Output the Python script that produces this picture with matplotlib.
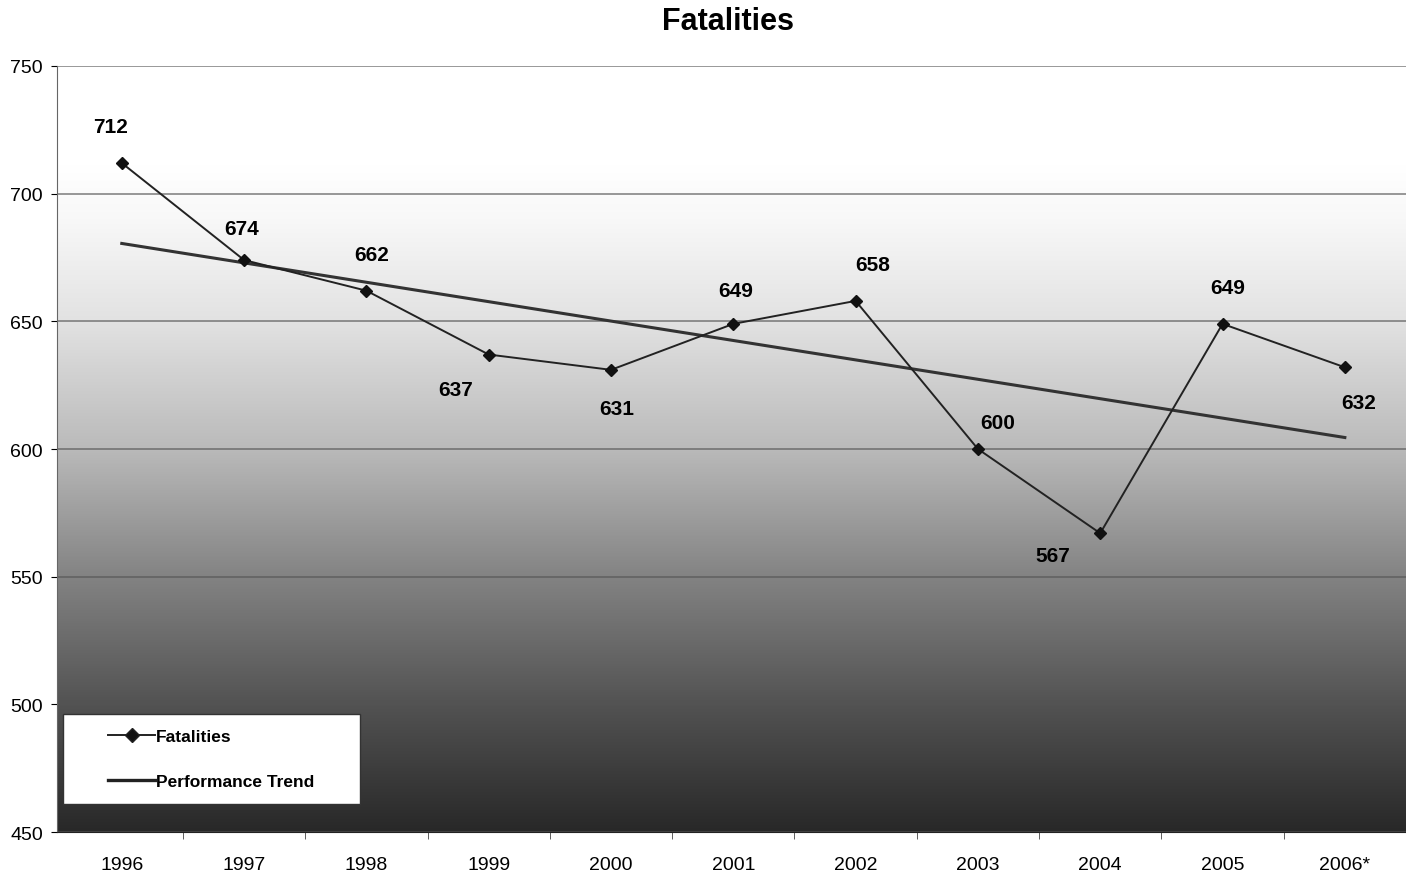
import numpy as np
import matplotlib.pyplot as plt
from matplotlib.colors import LinearSegmentedColormap
from matplotlib.lines import Line2D
from matplotlib.patches import Rectangle

years = ["1996", "1997", "1998", "1999", "2000", "2001", "2002", "2003", "2004", "2005", "2006*"]
fatalities = [712, 674, 662, 637, 631, 649, 658, 600, 567, 649, 632]
trend_ends = [680.5, 604.5]   # performance trend at first and last year
label_offsets = [(-8, 26), (-2, 23), (4, 26), (-24, -25), (4, -28), (2, 24), (12, 26),
                 (14, 19), (-34, -16), (4, 26), (10, -25)]

plt.rcParams["font.family"] = ["Liberation Sans", "DejaVu Sans"]

fig = plt.figure(figsize=(14.06, 8.79), dpi=100)
ax = fig.add_axes([0.0405, 0.0523, 0.9595, 0.8715])

x = np.arange(len(years))
ax.set_xlim(-0.53, len(years) - 0.5)
ax.set_ylim(450, 750)

# grey gradient background, white at top to dark at bottom
stops = [(0.0, "#282828"), (0.167, "#535353"), (0.333, "#838383"), (0.5, "#bababa"),
         (0.667, "#e2e2e2"), (0.8, "#f8f8f8"), (0.87, "#ffffff"), (1.0, "#ffffff")]
cmap = LinearSegmentedColormap.from_list("bg", stops)
grad = np.linspace(0, 1, 256).reshape(-1, 1)
ax.imshow(grad, cmap=cmap, origin="lower", aspect="auto",
          extent=[-0.53, len(years) - 0.5, 450, 750], zorder=0)

ax.set_yticks([450, 500, 550, 600, 650, 700, 750])
ax.yaxis.grid(True, color="#555555", linewidth=1.2, alpha=0.7)
for gl in ax.get_ygridlines():
    gl.set_zorder(1)

ax.set_xticks(x)
ax.set_xticklabels(years)
ax.set_xticks(np.arange(0.5, len(years)), minor=True)
ax.tick_params(axis="x", which="major", length=0, pad=17, labelsize=14)
ax.tick_params(axis="x", which="minor", length=5, color="#444444")
ax.tick_params(axis="y", length=4, labelsize=14, pad=6)

for side in ["top", "right"]:
    ax.spines[side].set_visible(False)
ax.spines["left"].set_color("#666666")
ax.spines["bottom"].set_color("#222222")

ax.plot(x, fatalities, color="#222222", linewidth=1.4, marker="D", markersize=6,
        markerfacecolor="#111111", markeredgecolor="#111111", zorder=3)
ax.plot([x[0], x[-1]], trend_ends, color="#333333", linewidth=2.2, zorder=2)

for xi, v, off in zip(x, fatalities, label_offsets):
    ax.annotate(str(v), (xi, v), xytext=off, textcoords="offset points",
                ha="center", va="center", fontsize=15, fontweight="bold", zorder=4)

fig.text(0.518, 0.975, "Fatalities", ha="center", va="center", fontsize=22, fontweight="bold")

# legend box
ax.add_patch(Rectangle((0.0044, 0.0366), 0.220, 0.1175, transform=ax.transAxes,
                       facecolor="white", edgecolor="#333333", linewidth=1.0, zorder=5))
handles = [Line2D([], [], color="#222222", linewidth=1.4, marker="D", markersize=7,
                  markerfacecolor="#111111"),
           Line2D([], [], color="#222222", linewidth=2.4)]
leg = ax.legend(handles, ["Fatalities", "Performance Trend"], loc="center left",
                bbox_to_anchor=(0.038, 0.0955), frameon=False, handlelength=2.7,
                handletextpad=0.05, labelspacing=1.75, borderpad=0, borderaxespad=0,
                prop={"weight": "bold", "size": 12.5})
leg.set_zorder(6)

fig.savefig("out.png", dpi=100)
